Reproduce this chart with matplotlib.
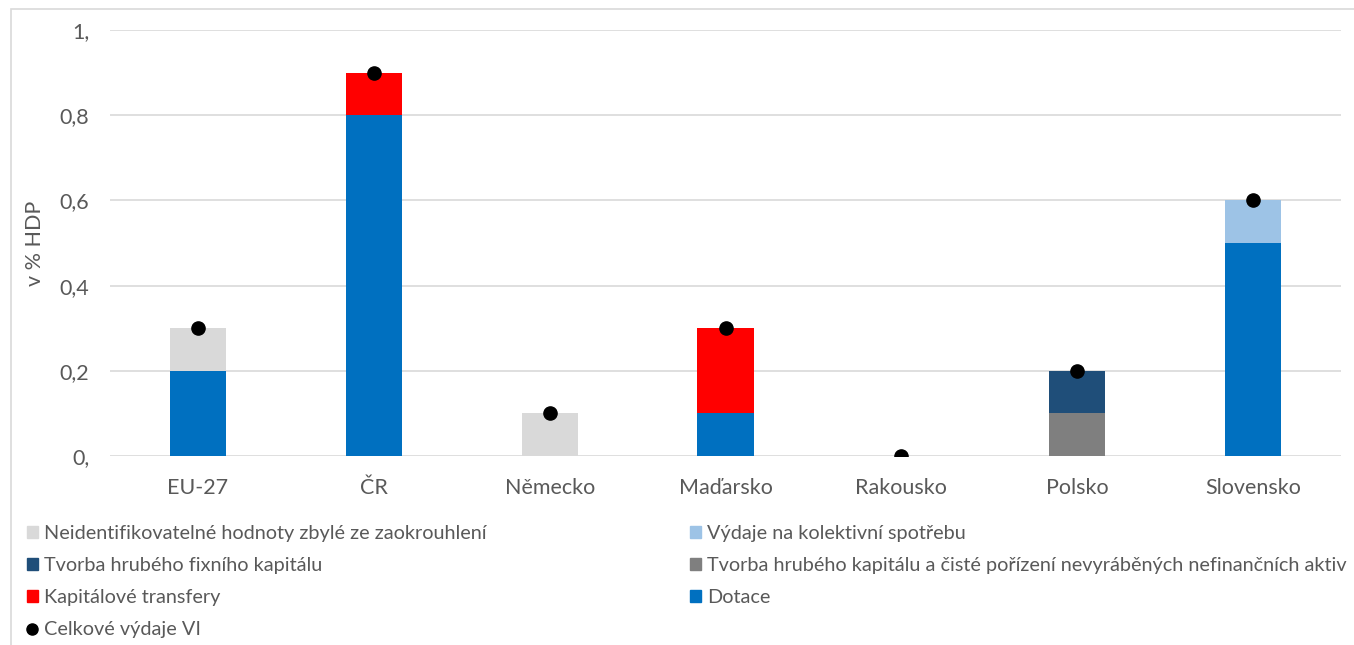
import matplotlib

matplotlib.use("Agg")
import matplotlib.pyplot as plt
from matplotlib.lines import Line2D
from matplotlib.patches import Patch

countries = ["EU-27", "ČR", "Německo", "Maďarsko", "Rakousko", "Polsko", "Slovensko"]

# components in stacking order, bottom first
dotace = [0.2, 0.8, 0.0, 0.1, 0.0, 0.0, 0.5]
kapitalove_transfery = [0.0, 0.1, 0.0, 0.2, 0.0, 0.0, 0.0]
tvorba_kapitalu_nevyrab = [0.0, 0.0, 0.0, 0.0, 0.0, 0.1, 0.0]
tvorba_fixniho = [0.0, 0.0, 0.0, 0.0, 0.0, 0.1, 0.0]
kolektivni_spotreba = [0.0, 0.0, 0.0, 0.0, 0.0, 0.0, 0.1]
neidentifikovatelne = [0.1, 0.0, 0.1, 0.0, 0.0, 0.0, 0.0]
celkem = [0.3, 0.9, 0.1, 0.3, 0.0, 0.2, 0.6]

series = [
    ("Dotace", dotace, "#0070C0"),
    ("Kapitálové transfery", kapitalove_transfery, "#FF0000"),
    ("Tvorba hrubého kapitálu a čisté pořízení nevyráběných nefinančních aktiv",
     tvorba_kapitalu_nevyrab, "#7F7F7F"),
    ("Tvorba hrubého fixního kapitálu", tvorba_fixniho, "#1F4E79"),
    ("Výdaje na kolektivní spotřebu", kolektivni_spotreba, "#9DC3E6"),
    ("Neidentifikovatelné hodnoty zbylé ze zaokrouhlení", neidentifikovatelne, "#D9D9D9"),
]

yticks = [0.0, 0.2, 0.4, 0.6, 0.8, 1.0]
ytick_labels = ["0,", "0,2", "0,4", "0,6", "0,8", "1,"]

plt.rcParams["font.family"] = ["Lato", "DejaVu Sans"]
text_color = "#595959"
W, H = 1354, 645

fig = plt.figure(figsize=(W / 100, H / 100), dpi=100)
# outer chart frame (runs off the right and bottom edges)
fig.patches.append(plt.Rectangle((11 / W, -0.1), 1.2, (H - 9) / H + 0.1, transform=fig.transFigure,
                                 fill=False, edgecolor="#D9D9D9", linewidth=1.2))

ax = fig.add_axes([110 / W, (H - 456) / H, 1231 / W, 426 / H])
x = range(len(countries))
bottom = [0.0] * len(countries)
for label, values, color in series:
    ax.bar(x, values, width=0.32, bottom=bottom, color=color, zorder=2)
    bottom = [b + v for b, v in zip(bottom, values)]
ax.plot(x, celkem, "o", color="black", markersize=9.5, zorder=3)

ax.set_xlim(-0.5, len(countries) - 0.5)
ax.set_ylim(0, 1.0)
ax.set_yticks(yticks)
ax.set_yticklabels(ytick_labels)
ax.set_xticks(list(x))
ax.set_xticklabels(countries)
ax.tick_params(axis="both", length=0, labelsize=15.5, colors=text_color)
ax.tick_params(axis="y", pad=15)
ax.tick_params(axis="x", pad=16)
ax.yaxis.grid(True, color="#D9D9D9", linewidth=1.2, zorder=0)
ax.set_axisbelow(True)
for s in ax.spines.values():
    s.set_visible(False)
ax.set_ylabel("v % HDP", fontsize=15.5, color=text_color)
ax.yaxis.set_label_coords(-65 / 1231, 0.5)

legend_kw = dict(frameon=False, fontsize=14.3, labelcolor=text_color, handlelength=0.55,
                 handleheight=0.55, handletextpad=0.3, labelspacing=0.76, borderpad=0,
                 borderaxespad=0, loc="upper left")
by_name = {label: color for label, _, color in series}
left_items = ["Neidentifikovatelné hodnoty zbylé ze zaokrouhlení", "Tvorba hrubého fixního kapitálu",
              "Kapitálové transfery"]
right_items = ["Výdaje na kolektivní spotřebu",
               "Tvorba hrubého kapitálu a čisté pořízení nevyráběných nefinančních aktiv", "Dotace"]
left_handles = [Patch(color=by_name[n]) for n in left_items]
left_handles.append(Line2D([], [], marker="o", color="black", linestyle="none", markersize=8))
leg1 = fig.legend(left_handles, left_items + ["Celkové výdaje VI"], bbox_to_anchor=(27 / W, 1 - 525 / H),
                  **legend_kw)
leg2 = fig.legend([Patch(color=by_name[n]) for n in right_items], right_items,
                  bbox_to_anchor=(690 / W, 1 - 525 / H), **legend_kw)

fig.savefig("out.png", dpi=100)
